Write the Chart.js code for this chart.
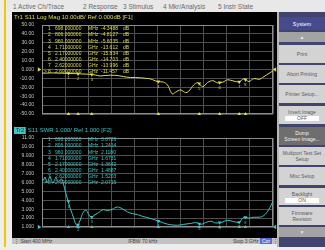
<!DOCTYPE html>
<html>
<head>
<meta charset="utf-8">
<script src="https://cdn.jsdelivr.net/npm/chart.js@4.4.1/dist/chart.umd.min.js"></script>
<style>
  html, body { margin: 0; padding: 0; }
  body { width: 325px; height: 250px; position: relative; overflow: hidden; background: #ededed; font-family: "Liberation Sans", Arial, sans-serif; }
  #edge { position: absolute; left: 4px; top: 0; width: 2px; height: 247px; background: #f2c600; }
  #menu { position: absolute; left: 7px; top: 0; width: 318px; height: 12px; background: #e8e8e8; color: #6a6a6a; font-size: 6.5px; }
  #menu span { position: absolute; top: 3px; white-space: nowrap; }
  #screen { position: absolute; left: 12px; top: 12px; width: 265px; height: 226px; background: #000; }
  #screen canvas { position: absolute; left: 0; }
  #status { position: absolute; left: 12px; top: 238px; width: 265px; height: 6px; background: #c2c2c2; color: #444; font-size: 5px; }
  #status span { position: absolute; top: 0; line-height: 6px; white-space: nowrap; }
  #status .cor { background: #5c6bd2; color: #fff; padding: 0 2px; }
  #side { position: absolute; left: 277px; top: 12px; width: 48px; height: 235px; background: #40446e; }
  #side .strip { position: absolute; left: 0; top: 0; width: 2px; height: 235px; background: #b8b8b8; }
  .btn { position: absolute; left: 2px; width: 46px; background: #d3d3d3; color: #5a5a5a; font-size: 5px; text-align: center; display: flex; flex-direction: column; justify-content: center; line-height: 6px; }
  .btn.head { background: #464b8e; color: #fff; font-size: 5.5px; }
  .btn.dark { background: #6e6e6e; color: #f4f4f4; }
  .btn.arrow { background: #a3a3a3; color: #e8e8e8; }
  .btn .box { margin: 1px auto 0; width: 34px; background: #fff; color: #555; line-height: 5px; }
</style>
</head>
<body>
<div id="edge"></div>
<div id="menu">
  <span style="left:6px">1 Active Ch/Trace</span>
  <span style="left:76px">2 Response</span>
  <span style="left:116px">3 Stimulus</span>
  <span style="left:156px">4 Mkr/Analysis</span>
  <span style="left:211px">5 Instr State</span>
</div>
<div id="screen">
  <canvas id="top" width="265" height="113" style="top:0"></canvas>
  <canvas id="bottom" width="265" height="113" style="top:113px"></canvas>
</div>
<div id="status">
  <span style="left:2px">&#8942; Start 400 MHz</span>
  <span style="left:116px">IFBW 70 kHz</span>
  <span style="left:221px">Stop 3 GHz</span>
  <span class="cor" style="left:248px">Cor</span>
  <span style="left:261px">&#8942;</span>
</div>
<div id="side">
  <div class="strip"></div>
  <div class="btn head" style="top:5px;height:13px">System</div>
  <div class="btn arrow" style="top:20px;height:10px">&#9650;</div>
  <div class="btn" style="top:33px;height:18px">Print</div>
  <div class="btn" style="top:53px;height:18px">Abort Printing</div>
  <div class="btn" style="top:73px;height:18px">Printer Setup...</div>
  <div class="btn" style="top:94px;height:18px">Invert Image<div class="box">OFF</div></div>
  <div class="btn dark" style="top:115px;height:18px">Dump<br>Screen Image...</div>
  <div class="btn" style="top:135px;height:18px">Multiport Test Set<br>Setup</div>
  <div class="btn" style="top:155px;height:18px">Misc Setup</div>
  <div class="btn" style="top:176px;height:17px">Backlight<div class="box">ON</div></div>
  <div class="btn" style="top:195px;height:18px">Firmware<br>Revision</div>
  <div class="btn arrow" style="top:215px;height:10px">&#9660;</div>
</div>

<script>
// sweep 400 MHz .. 3 GHz, x values in MHz
const freqStart = 400;
const freqStop = 3000;

// Tr1: S11 log mag (dB)
const topFreqs = [400, 450, 500, 560, 620, 698, 760, 830, 900, 960, 1000, 1056, 1110, 1169, 1220, 1259, 1320, 1395, 1450, 1508,
  1560, 1621, 1700, 1768, 1813, 1870, 1903, 1960, 2017, 2050, 2107, 2152, 2209, 2265, 2322, 2378, 2435, 2491, 2559, 2616,
  2672, 2729, 2786, 2842, 2898, 2932, 2977, 3000];
const topValues = [-4.0, -4.1, -3.8, -4.0, -4.2, -4.35, -4.6, -4.9, -5.2, -5.6, -6.2, -7.2, -6.8, -6.4, -6.5, -6.9, -8.0, -9.0, -9.0, -9.3,
  -9.8, -10.6, -13.5, -14.2, -17.5, -27.5, -25.5, -23.0, -26.0, -24.5, -17.5, -14.8, -19.5, -14.5, -12.5, -15.0, -14.2, -11.5, -13.0, -14.0,
  -10.5, -13.5, -10.2, -11.0, -8.0, -5.8, -3.0, -1.5];

// Tr2: S11 SWR
const bottomFreqs = [400, 411, 434, 457, 474, 490, 507, 524, 541, 558, 580, 603, 620, 637, 655, 671, 694, 717, 739, 756,
  773, 785, 796, 807, 818, 835, 852, 875, 897, 920, 954, 976, 1033, 1090, 1135, 1191, 1248, 1304, 1361, 1417,
  1474, 1530, 1587, 1643, 1700, 1768, 1847, 1926, 1994, 2073, 2130, 2186, 2243, 2299, 2356, 2412, 2491, 2559, 2616, 2672,
  2729, 2786, 2842, 2898, 2955, 3000];
const bottomValues = [6.4, 6.2, 6.6, 6.0, 6.3, 6.7, 6.2, 5.9, 6.3, 6.5, 6.1, 6.3, 6.4, 6.0, 5.3, 4.7, 3.9, 3.1, 2.5, 2.0,
  1.5, 1.25, 1.12, 1.25, 1.5, 1.9, 2.4, 2.8, 2.9, 2.5, 2.1, 2.25, 2.6, 2.95, 2.85, 3.0, 3.25, 3.05, 2.7, 2.5,
  2.4, 2.2, 2.05, 1.9, 1.7, 1.45, 1.25, 1.2, 1.3, 1.4, 1.5, 1.3, 1.5, 1.65, 1.45, 1.5, 1.75, 1.6, 1.5, 2.1,
  2.0, 2.1, 2.1, 2.3, 3.0, 3.9];

// markers
const markerFreqs = [698, 806, 960, 1710, 2170, 2400, 2620, 2690];
const markerFreqText = ['698.000000', '806.000000', '960.000000', '1.71000000', '2.17000000', '2.40000000', '2.62000000', '2.69000000'];
const markerUnits = ['MHz', 'MHz', 'MHz', 'GHz', 'GHz', 'GHz', 'GHz', 'GHz'];
const topMarkerValues = [-4.3488, -4.8127, -5.6035, -13.612, -15.834, -14.703, -13.996, -11.457];
const bottomMarkerValues = [3.8726, 1.2414, 2.1180, 1.6731, 1.3642, 1.4887, 1.5203, 2.0715];

// y axis ticks
const topTicks = { min: -50, max: 50, step: 10, ref: 0 };
const bottomTicks = { min: 1, max: 11, step: 1, ref: 1 };

const FONT = '"Liberation Sans", Arial, sans-serif';

function tri(ctx, x, y, r, dir) {
  ctx.beginPath();
  if (dir === 'right') { ctx.moveTo(x - r, y - r); ctx.lineTo(x + r * 0.6, y); ctx.lineTo(x - r, y + r); }
  else { ctx.moveTo(x + r, y - r); ctx.lineTo(x - r * 0.6, y); ctx.lineTo(x + r, y + r); }
  ctx.closePath();
  ctx.fill();
}

const decor = {
  id: 'decor',
  beforeDatasetsDraw(chart, args, o) {
    const { ctx, chartArea: a } = chart;
    ctx.save();
    ctx.strokeStyle = '#8c8c8c';
    ctx.lineWidth = 1;
    ctx.strokeRect(a.left + 0.5, a.top + 0.5, a.width - 1, a.height - 1);
    ctx.restore();
  },
  afterDraw(chart, args, o) {
    const { ctx, chartArea: a, scales: { y } } = chart;
    ctx.save();
    ctx.textBaseline = 'middle';

    // trace title line
    ctx.font = '6px ' + FONT;
    let tx = 2;
    if (o.active) {
      const w = ctx.measureText(o.name).width + 3;
      ctx.fillStyle = o.color;
      ctx.fillRect(tx, 2, w, 7);
      ctx.fillStyle = '#1a3a3a';
      ctx.fillText(o.name, tx + 1.5, 5.8);
      tx += w + 2;
    } else {
      ctx.fillStyle = o.color;
      ctx.fillText(o.name, tx, 5.8);
      tx += ctx.measureText(o.name).width + 2;
    }
    ctx.fillStyle = o.color;
    ctx.fillText(o.title, tx, 5.8);

    // reference level arrows
    const ry = y.getPixelForValue(o.ref);
    tri(ctx, a.left - 2, ry, 2.2, 'right');
    tri(ctx, a.right + 1, ry, 2.2, 'left');

    // marker table
    ctx.font = '5px ' + FONT;
    for (let i = 0; i < markerFreqs.length; i++) {
      const ty = o.tableTop + i * 6.1;
      if (i === markerFreqs.length - 1) ctx.fillText('>', 32, ty);
      ctx.fillText(String(i + 1), 36, ty);
      ctx.fillText(markerFreqText[i], 43, ty);
      ctx.fillText(markerUnits[i], 76, ty);
      ctx.fillText(o.values[i], 89, ty);
      if (o.unit) ctx.fillText(o.unit, 111, ty);
    }

    // marker numbers under the trace markers
    const meta = chart.getDatasetMeta(1);
    ctx.font = '4px ' + FONT;
    ctx.textAlign = 'center';
    meta.data.forEach((p, i) => ctx.fillText(String(i + 1), p.x, p.y + 5));
    ctx.restore();
  }
};

function makeChart(id, freqs, values, mVals, t, o) {
  const yMin = t.min;
  return new Chart(document.getElementById(id), {
    type: 'line',
    data: {
      datasets: [
        {
          data: freqs.map((f, i) => ({ x: f, y: values[i] })),
          borderColor: o.color,
          borderWidth: 1,
          pointRadius: 0,
          cubicInterpolationMode: 'monotone',
          order: 3
        },
        {
          // markers sitting on the trace
          data: markerFreqs.map((f, i) => ({ x: f, y: mVals[i] })),
          showLine: false,
          pointStyle: 'triangle',
          rotation: 180,
          pointRadius: 2.2,
          backgroundColor: o.color,
          borderColor: o.color,
          borderWidth: 0,
          order: 2
        },
        {
          // marker positions along the bottom edge
          data: markerFreqs.map(f => ({ x: f, y: yMin })),
          showLine: false,
          pointStyle: 'triangle',
          pointRadius: 2,
          backgroundColor: o.color,
          borderColor: o.color,
          borderWidth: 0,
          clip: false,
          order: 1
        }
      ]
    },
    options: {
      responsive: false,
      animation: false,
      events: [],
      layout: { padding: { left: 0, right: 4, top: 13, bottom: o.padBottom } },
      plugins: {
        legend: { display: false },
        tooltip: { enabled: false },
        decor: o
      },
      scales: {
        x: {
          type: 'linear',
          min: freqStart,
          max: freqStop,
          ticks: { display: false, stepSize: (freqStop - freqStart) / 10 },
          grid: { color: '#4e4e4e', drawTicks: false },
          border: { display: false },
          afterFit: s => { s.height = 0; }
        },
        y: {
          min: t.min,
          max: t.max,
          ticks: {
            stepSize: t.step,
            autoSkip: false,
            padding: 8,
            color: '#c4c4c4',
            font: { size: 5, family: FONT },
            callback: o.label
          },
          grid: { color: '#4e4e4e', drawTicks: false },
          border: { display: false },
          afterFit: s => { s.width = 30; }
        }
      }
    },
    plugins: [decor]
  });
}

makeChart('top', topFreqs, topValues, topMarkerValues, topTicks, {
  name: 'Tr1',
  title: 'S11 Log Mag 10.00dB/ Ref 0.000dB [F1]',
  color: '#dcdc52',
  active: false,
  ref: topTicks.ref,
  tableTop: 17,
  values: topMarkerValues.map(v => v.toFixed(4 - (Math.abs(v) >= 10 ? 1 : 0))),
  unit: 'dB',
  padBottom: 4,
  label: v => (v === 0 ? '0.000' : v.toFixed(2))
});

makeChart('bottom', bottomFreqs, bottomValues, bottomMarkerValues, bottomTicks, {
  name: 'Tr2',
  title: 'S11 SWR 1.000/ Ref 1.000 [F2]',
  color: '#3fc4c4',
  active: true,
  ref: bottomTicks.ref,
  tableTop: 15,
  values: bottomMarkerValues.map(v => v.toFixed(4)),
  unit: '',
  padBottom: 6,
  label: v => (v >= 10 ? v.toFixed(2) : v.toFixed(3))
});
</script>
</body>
</html>
